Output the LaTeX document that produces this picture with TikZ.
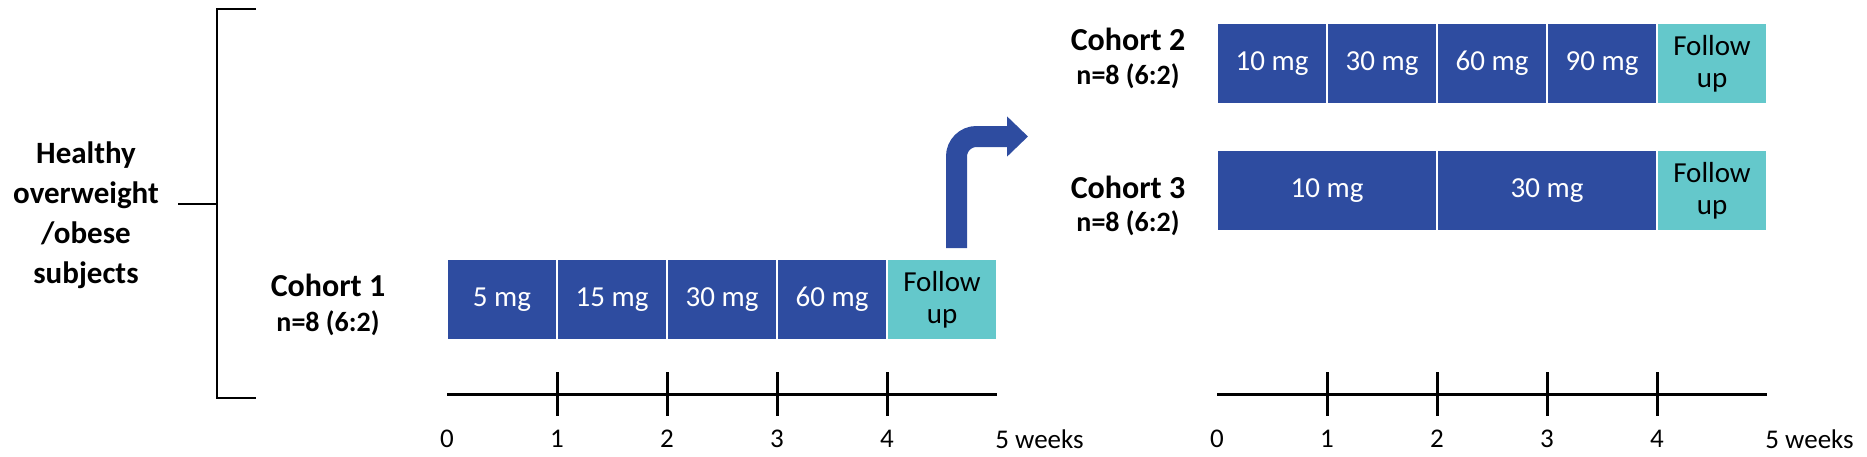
\documentclass[tikz,border=0pt]{standalone}
\usepackage{fontspec}
\setmainfont{Carlito}
\usetikzlibrary{arrows.meta}
\usetikzlibrary{positioning}

\definecolor{doseblue}{RGB}{46,76,160}
\definecolor{fupteal}{RGB}{100,200,203}

\begin{document}
\begin{tikzpicture}[x=0.5pt, y=-0.5pt,
  dose/.style={rectangle, fill=doseblue, draw=white, line width=0.8pt, text=white, inner sep=0, outer sep=0,
    minimum height=40.5pt, minimum width=55pt, font=\fontsize{14.5}{16}\selectfont},
  fup/.style={dose, fill=fupteal, text=black, align=center},
  cohort/.style={font=\bfseries\fontsize{16}{19}\selectfont, inner sep=0},
  ratio/.style={font=\bfseries\fontsize{14}{17}\selectfont, inner sep=0},
  wk/.style={font=\fontsize{13.5}{16}\selectfont, inner sep=0},
  bracket/.style={black, line width=1pt},
  axis/.style={black, line width=1.5pt}]
\useasboundingbox (0,0) rectangle (1867,456);

% population and bracket
\node[align=center, font=\bfseries\fontsize{15.5}{20}\selectfont] (pop) at (86,215) {Healthy\\overweight\\/obese\\subjects};
\coordinate (hs) at (178,204);
\draw[bracket] (256,9) -- (217,9) -- (217,398) -- (256,398);
\draw[bracket] (hs) -- (217,204);

% cohort 1
\node[cohort] (c1lab) at (328,285) {Cohort 1};
\node[ratio] (c1n) at (328,323) {n=8 (6:2)};
\node[dose] (c1a) at (502,299.5) {5 mg};
\node[dose, right=0pt of c1a] (c1b) {15 mg};
\node[dose, right=0pt of c1b] (c1c) {30 mg};
\node[dose, right=0pt of c1c] (c1d) {60 mg};
\node[fup, right=0pt of c1d] (c1f) {Follow\\up};

% cohort 2
\node[cohort] (c2lab) at (1128,39) {Cohort 2};
\node[ratio] (c2n) at (1128,76) {n=8 (6:2)};
\node[dose] (c2a) at (1272,63.5) {10 mg};
\node[dose, right=0pt of c2a] (c2b) {30 mg};
\node[dose, right=0pt of c2b] (c2c) {60 mg};
\node[dose, right=0pt of c2c] (c2d) {90 mg};
\node[fup, right=0pt of c2d] (c2f) {Follow\\up};

% cohort 3
\node[cohort] (c3lab) at (1128,187) {Cohort 3};
\node[ratio] (c3n) at (1128,223) {n=8 (6:2)};
\node[dose, minimum width=110pt] (c3a) at (1327,190.5) {10 mg};
\node[dose, minimum width=110pt, right=0pt of c3a] (c3b) {30 mg};
\node[fup, right=0pt of c3b] (c3f) {Follow\\up};

% escalation arrow
\coordinate (up) at (956.5,248);
\coordinate (next) at (1028,136.5);
\draw[doseblue, line width=10.5pt, rounded corners=10pt, -{Triangle[length=10.5pt, width=19.5pt]}] (up) |- (next);

% time axes
\coordinate (t1s) at (447,394);
\coordinate (t1e) at (997,394);
\coordinate (t2s) at (1217,394);
\coordinate (t2e) at (1767,394);
\draw[axis] (t1s) -- (t1e);
\draw[axis] (t2s) -- (t2e);
\foreach \t in {1,...,4} {
 \draw[axis] (447+110*\t,372) --++(0,44);
 \draw[axis] (1217+110*\t,372) --++(0,44);
}
\foreach \t in {0,...,4} {
 \node[wk] (w1\t) at (447+110*\t,439) {\t};
 \node[wk] (w2\t) at (1217+110*\t,439) {\t};
}
\node[wk, anchor=west] (w15) at (995,439) {5 weeks};
\node[wk, anchor=west] (w25) at (1765,439) {5 weeks};
\end{tikzpicture}
\end{document}
